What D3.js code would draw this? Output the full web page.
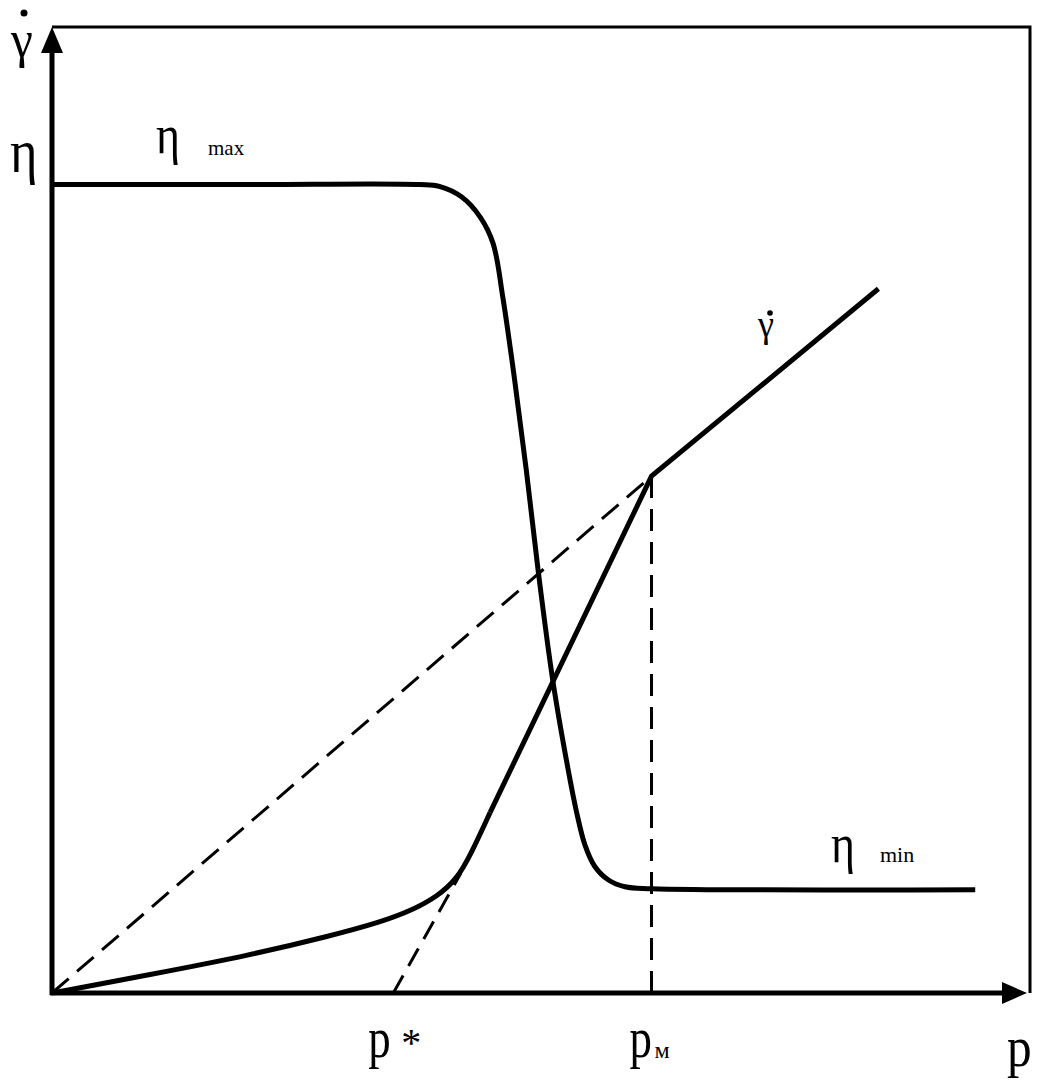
<!DOCTYPE html>
<html><head><meta charset="utf-8">
<script src="https://cdn.jsdelivr.net/npm/d3@7"></script>
<style>html,body{margin:0;padding:0;background:#fff;}svg{display:block;}</style>
</head><body>
<svg id="c" width="1043" height="1082"></svg>
<script>
// ---- data (arbitrary units, x: pressure p 0..100, y: 0..100) ----
const etaP = [0, 20, 37.6, 39.6, 41.9, 43.8, 45.1, 46.1, 47.3, 48.5, 49.7, 51.2, 52.6, 53.6, 54.5, 55.5, 56.9, 58.6, 61.3, 94.4];
const etaV = [83.7, 83.7, 83.7, 83.5, 82.4, 80.3, 77.6, 72.0, 63.5, 54.1, 43.8, 32.4, 24.1, 18.9, 15.3, 13.1, 11.7, 11.0, 10.8, 10.7];
const gammaCurveP = [0, 10.0, 20.2, 28.4, 33.5, 36.9, 39.4, 41.4, 42.8, 44.8];
const gammaCurveV = [0, 1.9, 3.9, 5.9, 7.3, 8.6, 10.0, 11.8, 14.3, 18.7];
const gammaLineP = [44.8, 61.3, 84.5];
const gammaLineV = [18.7, 53.5, 72.9];
const secantP = [0, 61.3];
const secantV = [0, 53.5];
const tangentP = [34.9, 41.8];
const tangentV = [0, 12.4];
const pM = 61.3, pMv = 53.5;
const tickLabels = [{p: 34.9, t: "p", s: "*"}, {p: 61.3, t: "p", s: "м"}];

const svg = d3.select("#c");
const x = d3.scaleLinear().domain([0, 100]).range([52, 1030]);
const y = d3.scaleLinear().domain([0, 100]).range([993, 27]);
const font = "Liberation Serif, serif";

const line = d3.line().x(d => x(d[0])).y(d => y(d[1]));
const zip = (a, b) => a.map((v, i) => [v, b[i]]);

// frame (top & right)
svg.append("path").attr("d", `M${x(0)},${y(100)}H${x(100)}V${y(0)}`)
  .attr("fill", "none").attr("stroke", "#000").attr("stroke-width", 3);

// dashed lines
const dash = "22,11";
svg.append("path").attr("d", line(zip(secantP, secantV))).attr("fill", "none")
  .attr("stroke", "#000").attr("stroke-width", 3).attr("stroke-dasharray", dash);
svg.append("path").attr("d", line(zip(tangentP, tangentV))).attr("fill", "none")
  .attr("stroke", "#000").attr("stroke-width", 3).attr("stroke-dasharray", "20,11");
svg.append("path").attr("d", line([[pM, 0], [pM, pMv]])).attr("fill", "none")
  .attr("stroke", "#000").attr("stroke-width", 3).attr("stroke-dasharray", dash);

// curves
svg.append("path").attr("d", line.curve(d3.curveCatmullRom.alpha(0.5))(zip(etaP, etaV)))
  .attr("fill", "none").attr("stroke", "#000").attr("stroke-width", 5).attr("stroke-linejoin", "round");
svg.append("path").attr("d", line.curve(d3.curveBasis)(zip(gammaCurveP, gammaCurveV)))
  .attr("fill", "none").attr("stroke", "#000").attr("stroke-width", 5);
svg.append("path").attr("d", line.curve(d3.curveLinear)(zip(gammaLineP, gammaLineV)))
  .attr("fill", "none").attr("stroke", "#000").attr("stroke-width", 5).attr("stroke-linejoin", "miter");

// axes
svg.append("line").attr("x1", x(0)).attr("y1", y(0) + 2).attr("x2", x(0)).attr("y2", y(100) + 20)
  .attr("stroke", "#000").attr("stroke-width", 5);
svg.append("line").attr("x1", x(0) - 2).attr("y1", y(0)).attr("x2", x(100) - 20).attr("y2", y(0))
  .attr("stroke", "#000").attr("stroke-width", 5);
svg.append("path").attr("d", `M${x(0)},${y(100)}L${x(0) - 11},${y(100) + 26}L${x(0) + 11},${y(100) + 26}Z`);
svg.append("path").attr("d", `M${x(100) - 3},${y(0)}L${x(100) - 28},${y(0) - 11}L${x(100) - 28},${y(0) + 11}Z`);

// text helper
function txt(s, px, py, size, sx) {
  return svg.append("text").attr("transform", `translate(${px},${py}) scale(${sx || 1},1)`)
    .attr("font-family", font).attr("font-size", size).attr("fill", "#000").text(s);
}
function dot(px, py, r) {
  svg.append("circle").attr("cx", px).attr("cy", py).attr("r", r).attr("fill", "#000");
}

// axis titles
txt("γ", 11, 57, 52, 0.95);
dot(24, 13, 3.5);
txt("η", 10, 172, 62, 0.85);

// curve labels
txt("η", 156, 153, 54, 0.85);
txt("max", 208, 155, 21);
txt("γ", 758, 337, 38, 0.95);
dot(770, 313, 2.8);
txt("η", 831, 862, 54, 0.85);
txt("min", 880, 862, 22);

// tick labels
tickLabels.forEach(d => {
  txt(d.t, x(d.p) - (d.s === "м" ? 22 : 25), 1057, 56, 0.8);
  if (d.s === "*") txt("*", x(d.p) + 8, 1056, 40);
  else txt("м", x(d.p) + 3, 1058, 24);
});
txt("p", 1007, 1066, 58, 0.85);
</script>
</body></html>
